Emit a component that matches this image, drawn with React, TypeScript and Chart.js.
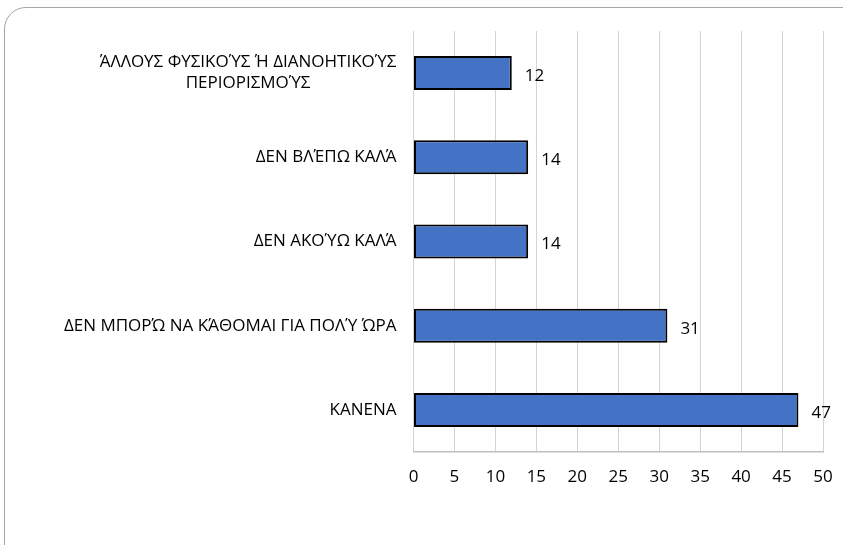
import React, { useEffect, useRef } from "react";
import { Chart, registerables } from "chart.js";

Chart.register(...registerables);

const categories: string[][] = [
  ["ΆΛΛΟΥΣ ΦΥΣΙΚΟΎΣ Ή ΔΙΑΝΟΗΤΙΚΟΎΣ", "ΠΕΡΙΟΡΙΣΜΟΎΣ"],
  ["ΔΕΝ ΒΛΈΠΩ ΚΑΛΆ"],
  ["ΔΕΝ ΑΚΟΎΩ ΚΑΛΆ"],
  ["ΔΕΝ ΜΠΟΡΏ ΝΑ ΚΆΘΟΜΑΙ ΓΙΑ ΠΟΛΎ ΏΡΑ"],
  ["ΚΑΝΕΝΑ"],
];
const values: number[] = [12, 14, 14, 31, 47];
const xTicks: number[] = [0, 5, 10, 15, 20, 25, 30, 35, 40, 45, 50];

const FONT = "'Open Sans', 'Noto Sans', sans-serif";
const TEXT = "#000000";
const SIZE = 17;

const labelsPlugin = {
  id: "customLabels",
  afterDatasetsDraw(chart: any) {
    const ctx = chart.ctx;
    const y = chart.scales.y;
    const meta = chart.getDatasetMeta(0);
    ctx.save();
    ctx.fillStyle = TEXT;
    ctx.font = `${SIZE}px ${FONT}`;
    ctx.textBaseline = "middle";
    const rightEdge = chart.chartArea.left - 17;
    categories.forEach((lines, i) => {
      const cy = y.getPixelForValue(i);
      let maxW = 0;
      lines.forEach((l) => (maxW = Math.max(maxW, ctx.measureText(l).width)));
      const cx = rightEdge - maxW / 2;
      const lh = 21;
      ctx.textAlign = "center";
      lines.forEach((l, j) => {
        const ly = cy + (j - (lines.length - 1) / 2) * lh;
        ctx.fillText(l, cx, ly);
      });
    });
    ctx.textAlign = "left";
    meta.data.forEach((bar: any, i: number) => {
      ctx.fillText(String(values[i]), bar.x + 13, bar.y + 3);
    });
    ctx.restore();
  },
};

export default function App() {
  const ref = useRef<HTMLCanvasElement>(null);
  useEffect(() => {
    const chart = new Chart(ref.current!, {
      type: "bar",
      data: {
        labels: categories.map((c) => c.join(" ")),
        datasets: [
          {
            data: values,
            backgroundColor: "#4472C4",
            borderColor: "#000000",
            borderWidth: 2,
            borderSkipped: false,
            categoryPercentage: 1,
            barPercentage: 0.404,
          },
        ],
      },
      options: {
        indexAxis: "y",
        animation: false,
        responsive: false,
        maintainAspectRatio: false,
        layout: { padding: { top: 31, right: 20, left: 0, bottom: 0 } },
        plugins: { legend: { display: false }, tooltip: { enabled: false } },
        scales: {
          x: {
            min: 0,
            max: 50,
            afterBuildTicks: (s: any) => {
              s.ticks = xTicks.map((v) => ({ value: v }));
            },
            afterFit: (s: any) => {
              s.height = 93;
              s.paddingRight = 0;
              s.paddingLeft = 0;
            },
            grid: { color: "#d4d4d4", lineWidth: 1, drawTicks: false },
            border: { display: true, color: "#bfbfbf", width: 1.5 },
            ticks: {
              padding: 15,
              color: TEXT,
              font: { family: FONT, size: SIZE },
            },
          },
          y: {
            afterFit: (s: any) => {
              s.width = 413.5;
            },
            grid: { display: false },
            border: { display: false },
            ticks: { display: false },
          },
        },
      },
      plugins: [labelsPlugin],
    });
    return () => chart.destroy();
  }, []);

  return (
    <div style={{ position: "fixed", left: 0, top: 0, width: 843, height: 545, background: "#fff", overflow: "hidden" }}>
      <div
        style={{
          position: "absolute",
          left: 4,
          top: 7,
          width: 870,
          height: 560,
          border: "1.5px solid #a6a6a6",
          borderRadius: 22,
          boxSizing: "border-box",
        }}
      />
      <canvas ref={ref} width={843} height={545} style={{ position: "absolute", left: 0, top: 0 }} />
    </div>
  );
}
